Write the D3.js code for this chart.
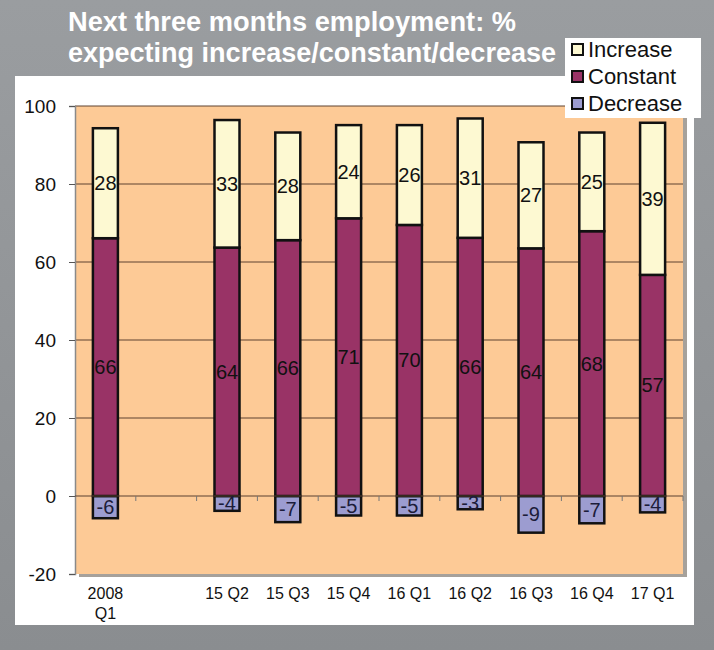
<!DOCTYPE html>
<html><head><meta charset="utf-8">
<script src="https://cdn.jsdelivr.net/npm/d3@7/dist/d3.min.js"></script>
<style>body{margin:0;background:#8f9295;}svg{display:block;}</style>
</head><body>
<svg id="c" width="714" height="650"></svg>
<script>
const categories = ["2008\nQ1", "", "15 Q2", "15 Q3", "15 Q4", "16 Q1", "16 Q2", "16 Q3", "16 Q4", "17 Q1"];
const increase = [28.2, null, 32.7, 27.6, 23.9, 25.6, 30.6, 27.2, 25.3, 39.0];
const constant = [66.1, null, 63.7, 65.6, 71.2, 69.5, 66.2, 63.5, 67.9, 56.7];
const decrease = [-5.7, null, -3.8, -6.7, -5.0, -5.0, -3.4, -9.4, -7.0, -4.2];
const yTicks = [-20, 0, 20, 40, 60, 80, 100];
const seriesNames = ["Increase", "Constant", "Decrease"];
const colors = {Increase: "#fdf9d2", Constant: "#993366", Decrease: "#9c9cd0"};
const FONT = "'Liberation Sans', Arial, sans-serif";

const svg = d3.select("#c");
const defs = svg.append("defs");
const g = defs.append("linearGradient").attr("id","bg").attr("x1",0).attr("y1",0).attr("x2",0).attr("y2",1);
g.append("stop").attr("offset","0%").attr("stop-color","#9a9da0");
g.append("stop").attr("offset","100%").attr("stop-color","#8a8d90");
svg.append("rect").attr("width",714).attr("height",650).attr("fill","url(#bg)");

// white panel
svg.append("rect").attr("x",15).attr("y",76).attr("width",679).attr("height",549).attr("fill","#ffffff");

const pL = 75, pR = 683, pT = 106, pB = 574;
const x = d3.scaleBand().domain(d3.range(categories.length)).range([pL, pR]).paddingInner(0).paddingOuter(0);
const y = d3.scaleLinear().domain([-20, 100]).range([pB, pT]);
const bw = 25;

// plot shadow + area
svg.append("rect").attr("x",pL+4).attr("y",pT+3).attr("width",pR-pL).attr("height",pB-pT).attr("fill","#a6a19b");
svg.append("rect").attr("x",pL).attr("y",pT).attr("width",pR-pL).attr("height",pB-pT).attr("fill","#fdca96");

// gridlines
svg.append("g").selectAll("line").data(yTicks.filter(t=>t>0)).join("line")
  .attr("x1",pL).attr("x2",pR).attr("y1",d=>y(d)).attr("y2",d=>y(d))
  .attr("stroke","#5e4330").attr("stroke-width",1);

// y axis
const yAxis = d3.axisLeft(y).tickValues(yTicks).tickSize(6).tickPadding(13).tickFormat(d=>String(d));
const ya = svg.append("g").attr("transform",`translate(${pL},0)`).call(yAxis);
ya.select(".domain").attr("stroke","#8a8a8a").attr("stroke-width",1.5);
ya.selectAll(".tick line").attr("stroke","#555");
ya.selectAll("text").attr("font-family",FONT).attr("font-size",19).attr("fill","#111");

// bars
const stacks = [];
categories.forEach((c,i)=>{
  if (increase[i] == null) return;
  stacks.push({i, name:"Decrease", y0:decrease[i], y1:0, v:decrease[i]});
  stacks.push({i, name:"Constant", y0:0, y1:constant[i], v:constant[i]});
  stacks.push({i, name:"Increase", y0:constant[i], y1:constant[i]+increase[i], v:increase[i]});
});
svg.append("g").selectAll("rect").data(stacks).join("rect")
  .attr("x",d=>x(d.i)+x.bandwidth()/2-bw/2).attr("width",bw)
  .attr("y",d=>y(Math.max(d.y0,d.y1))).attr("height",d=>Math.abs(y(d.y0)-y(d.y1)))
  .attr("fill",d=>colors[d.name]).attr("stroke","#111").attr("stroke-width",2.5);

// zero line + x ticks
svg.append("line").attr("x1",pL).attr("x2",pR).attr("y1",y(0)).attr("y2",y(0)).attr("stroke","#5a4030").attr("stroke-width",1);
const xTickPos = d3.range(1, categories.length+1).map(k=>pL + k*x.bandwidth());
svg.append("g").selectAll("line").data(xTickPos).join("line")
  .attr("x1",d=>d).attr("x2",d=>d).attr("y1",y(0)).attr("y2",y(0)+5).attr("stroke","#777");

// labels
svg.append("g").selectAll("text").data(stacks).join("text")
  .attr("x",d=>x(d.i)+x.bandwidth()/2).attr("y",d=>y((d.y0+d.y1)/2)+7)
  .attr("text-anchor","middle").attr("font-family",FONT).attr("font-size",20)
  .attr("fill",d=>d.name==="Decrease"?"#1c1c3a":"#111").text(d=>String(Math.round(d.v)));

// x labels
const xl = svg.append("g").selectAll("text").data(categories.map((c,i)=>({c,i}))).join("text")
  .attr("x",d=>x(d.i)+x.bandwidth()/2).attr("y",599)
  .attr("text-anchor","middle").attr("font-family",FONT).attr("font-size",16).attr("fill","#111");
xl.each(function(d){
  const lines = d.c.split("\n");
  lines.forEach((l,k)=>d3.select(this).append("tspan").attr("x",x(d.i)+x.bandwidth()/2).attr("dy",k?20:0).text(l));
});

// title
const title = ["Next three months employment: %", "expecting increase/constant/decrease"];
const tw = [448, 488];
title.forEach((t,k)=>svg.append("text").attr("x",68).attr("y",31+k*31)
  .attr("font-family","'Liberation Sans Narrow','Arial Narrow','Liberation Sans',sans-serif").attr("font-weight","bold")
  .attr("font-size",27).attr("fill","#ffffff").attr("textLength",tw[k]).attr("lengthAdjust","spacingAndGlyphs").text(t));

// legend
svg.append("rect").attr("x",565).attr("y",38).attr("width",136).attr("height",80).attr("fill","#ffffff");
const lg = svg.append("g").selectAll("g").data(seriesNames).join("g")
  .attr("transform",(d,k)=>`translate(572,${44+k*27})`);
lg.append("rect").attr("width",11).attr("height",11).attr("fill",d=>colors[d]).attr("stroke","#111").attr("stroke-width",2);
lg.append("text").attr("x",16).attr("y",13).attr("font-family",FONT).attr("font-size",22).attr("fill","#111").text(d=>d);
</script>
</body></html>
